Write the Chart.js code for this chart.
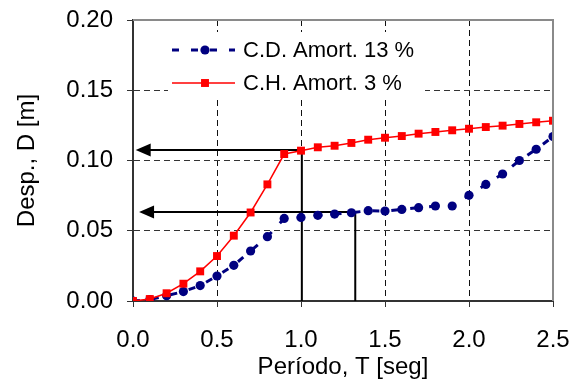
<!DOCTYPE html>
<html><head><meta charset="utf-8">
<script src="https://cdn.jsdelivr.net/npm/chart.js@4.4.0/dist/chart.umd.min.js"></script>
<style>html,body{margin:0;padding:0;background:#fff;}#wrap{width:581px;height:388px;position:relative;}
#frame{position:absolute;border-top:2px solid #8a8a8a;border-right:2px solid #8a8a8a;box-sizing:border-box;pointer-events:none;}</style>
</head><body><div id="wrap"><canvas id="c" width="581" height="388"></canvas><div id="frame"></div></div>
<script>
// ---- data ----
const periods = [0.0,0.1,0.2,0.3,0.4,0.5,0.6,0.7,0.8,0.9,1.0,1.1,1.2,1.3,1.4,1.5,1.6,1.7,1.8,1.9,2.0,2.1,2.2,2.3,2.4,2.5];
const cdAmort13 = [0.0,0.001,0.0038,0.0067,0.011,0.0178,0.0254,0.0356,0.0458,0.0588,0.0595,0.061,0.0619,0.0628,0.0643,0.064,0.0652,0.0664,0.0676,0.0676,0.0752,0.083,0.0904,0.1,0.108,0.117];
const chAmort3 = [0.0,0.0014,0.0055,0.0123,0.0211,0.032,0.0465,0.063,0.083,0.1046,0.107,0.1094,0.1105,0.1125,0.1148,0.1162,0.1174,0.1191,0.1203,0.1215,0.1226,0.1238,0.1248,0.126,0.1272,0.1283];
const seriesLabels = ['C.D. Amort. 13 %','C.H. Amort. 3 %'];
const xTicks = [0,0.5,1.0,1.5,2.0,2.5];
const yTicks = [0,0.05,0.10,0.15,0.20];
const xTitle = 'Período, T [seg]';
const yTitle = 'Desp., D [m]';
// reading arrows (T where the vertical starts, D level, T of arrow tip)
const arrowFromT = [1.005, 1.323];
const arrowLevelD = [0.1075, 0.0633];
const arrowTipT = [0.016, 0.036];

const FONT = "'Liberation Sans', Arial, sans-serif";
Chart.defaults.font.family = FONT;
Chart.defaults.color = '#000';

const toXY = arr => periods.map((t,i)=>({x:t,y:arr[i]}));

const deco = {
  id:'deco',
  beforeDatasetsDraw(chart){
    const ctx = chart.ctx, a = chart.chartArea, xs = chart.scales.x, ys = chart.scales.y;
    ctx.save();
    ctx.setLineDash([]);
    // plot frame (top & right), positioned from the scales
    const fl = xs.getPixelForValue(xTicks[0]), fr = xs.getPixelForValue(xTicks[xTicks.length-1]);
    const ft = ys.getPixelForValue(yTicks[yTicks.length-1]), fb = ys.getPixelForValue(yTicks[0]);
    ctx.strokeStyle = '#8a8a8a'; ctx.lineWidth = 2;
    ctx.beginPath();
    ctx.moveTo(fl, ft); ctx.lineTo(fr, ft);
    ctx.moveTo(fr, ft - 1); ctx.lineTo(fr, fb);
    ctx.stroke();
    // legend box
    const lx = a.left + 35, ly = a.top + 12, lw = 257, lh = 65;
    ctx.fillStyle = '#fff'; ctx.fillRect(lx, ly, lw, lh);
    const ds = chart.data.datasets;
    [0,1].forEach((di, r) => {
      const d = ds[di];
      const cy = ly + 18 + r*33;
      const x0 = lx + 4, x1 = lx + 67, mx = lx + 37;
      ctx.strokeStyle = d.borderColor; ctx.lineWidth = d.borderWidth;
      ctx.setLineDash(d.borderDash || []);
      ctx.beginPath(); ctx.moveTo(x0, cy); ctx.lineTo(x1, cy); ctx.stroke();
      ctx.setLineDash([]);
      ctx.fillStyle = d.backgroundColor;
      if (d.pointStyle === 'rect') {
        const s = d.pointRadius*Math.SQRT1_2;
        ctx.fillRect(mx - s, cy - s, 2*s, 2*s);
      } else {
        ctx.beginPath(); ctx.arc(mx, cy, d.pointRadius, 0, Math.PI*2); ctx.fill();
      }
      ctx.fillStyle = '#000'; ctx.font = '22px ' + FONT; ctx.textBaseline = 'middle'; ctx.textAlign = 'left';
      ctx.fillText(d.label, lx + 75, cy + 1);
    });
    // arrows
    ctx.strokeStyle = '#000'; ctx.fillStyle = '#000'; ctx.lineWidth = 2;
    arrowFromT.forEach((t, i) => {
      const px = xs.getPixelForValue(t), py = ys.getPixelForValue(arrowLevelD[i]);
      const tip = xs.getPixelForValue(arrowTipT[i]), base = ys.getPixelForValue(0);
      ctx.beginPath(); ctx.moveTo(px, base); ctx.lineTo(px, py); ctx.lineTo(tip + 12, py); ctx.stroke();
      ctx.beginPath(); ctx.moveTo(tip, py); ctx.lineTo(tip + 15, py - 6.5); ctx.lineTo(tip + 15, py + 6.5); ctx.closePath(); ctx.fill();
    });
    ctx.restore();
  }
};

const isZeroX = c => c.tick && c.tick.value === 0;
const isEdgeX = c => c.tick && c.tick.value === 2.5;
const isZeroY = c => c.tick && c.tick.value === 0;
const isEdgeY = c => c.tick && Math.abs(c.tick.value - 0.2) < 1e-9;

const chart = new Chart(document.getElementById('c'), {
  type: 'line',
  data: { datasets: [
    { label: seriesLabels[0], data: toXY(cdAmort13), borderColor:'#000080', backgroundColor:'#000080',
      borderWidth:3, borderDash:[7,12], pointStyle:'circle', pointRadius:4.6, pointBorderWidth:0, pointHoverRadius:4.6, tension:0, order:1 },
    { label: seriesLabels[1], data: toXY(chAmort3), borderColor:'#ff0000', backgroundColor:'#ff0000',
      borderWidth:1.5, pointStyle:'rect', pointRadius:5.6, pointBorderWidth:0, pointHoverRadius:5.6, tension:0, order:0 }
  ]},
  options: {
    responsive:false, animation:false, events:[],
    layout:{ padding:{ top:20, right:28, left:0, bottom:0 } },
    plugins:{ legend:{display:false}, tooltip:{enabled:false} },
    scales:{
      x:{ type:'linear', min:0, max:2.5,
        afterBuildTicks: s => { s.ticks = xTicks.map(v=>({value:v})); },
        afterFit: s => { s.height = 87; s.paddingLeft = 0; s.paddingRight = 0; },
        ticks:{ font:{size:24}, padding:19, maxRotation:0, callback: v => Number(v).toFixed(1) },
        grid:{ color: c => (isZeroX(c) || isEdgeX(c)) ? 'rgba(0,0,0,0)' : '#111',
               tickColor:'#333', tickLength:6, tickBorderDash:[], tickWidth:1 },
        border:{ display:true, color:'#333', width:2, dash:[6,4] },
        title:{ display:true, text:xTitle, font:{size:24}, padding:{top:2,bottom:6} }
      },
      y:{ type:'linear', min:0, max:0.2,
        afterBuildTicks: s => { s.ticks = yTicks.map(v=>({value:v})); },
        afterFit: s => { s.width = 133; s.paddingTop = 0; s.paddingBottom = 0; },
        ticks:{ font:{size:24}, padding:14, callback: v => Number(v).toFixed(2) },
        grid:{ color: c => (isZeroY(c) || isEdgeY(c)) ? 'rgba(0,0,0,0)' : '#333',
               tickColor:'#333', tickLength:6, tickBorderDash:[], tickWidth:1 },
        border:{ display:true, color:'#333', width:2, dash:[6,4] },
        title:{ display:true, text:yTitle, font:{size:24}, padding:{top:13,bottom:4} }
      }
    }
  },
  plugins:[deco]
});

// frame overlay positioned from the chart's own scales
(function(){
  const xs = chart.scales.x, ys = chart.scales.y;
  const l = xs.getPixelForValue(xTicks[0]), r = xs.getPixelForValue(xTicks[xTicks.length-1]);
  const t = ys.getPixelForValue(yTicks[yTicks.length-1]), b = ys.getPixelForValue(yTicks[0]);
  const f = document.getElementById('frame');
  f.style.left = Math.round(l) + 'px';
  f.style.top = (Math.round(t) - 1) + 'px';
  f.style.width = (Math.round(r - l) + 1) + 'px';
  f.style.height = (Math.round(b - t) + 1) + 'px';
})();
</script></body></html>
